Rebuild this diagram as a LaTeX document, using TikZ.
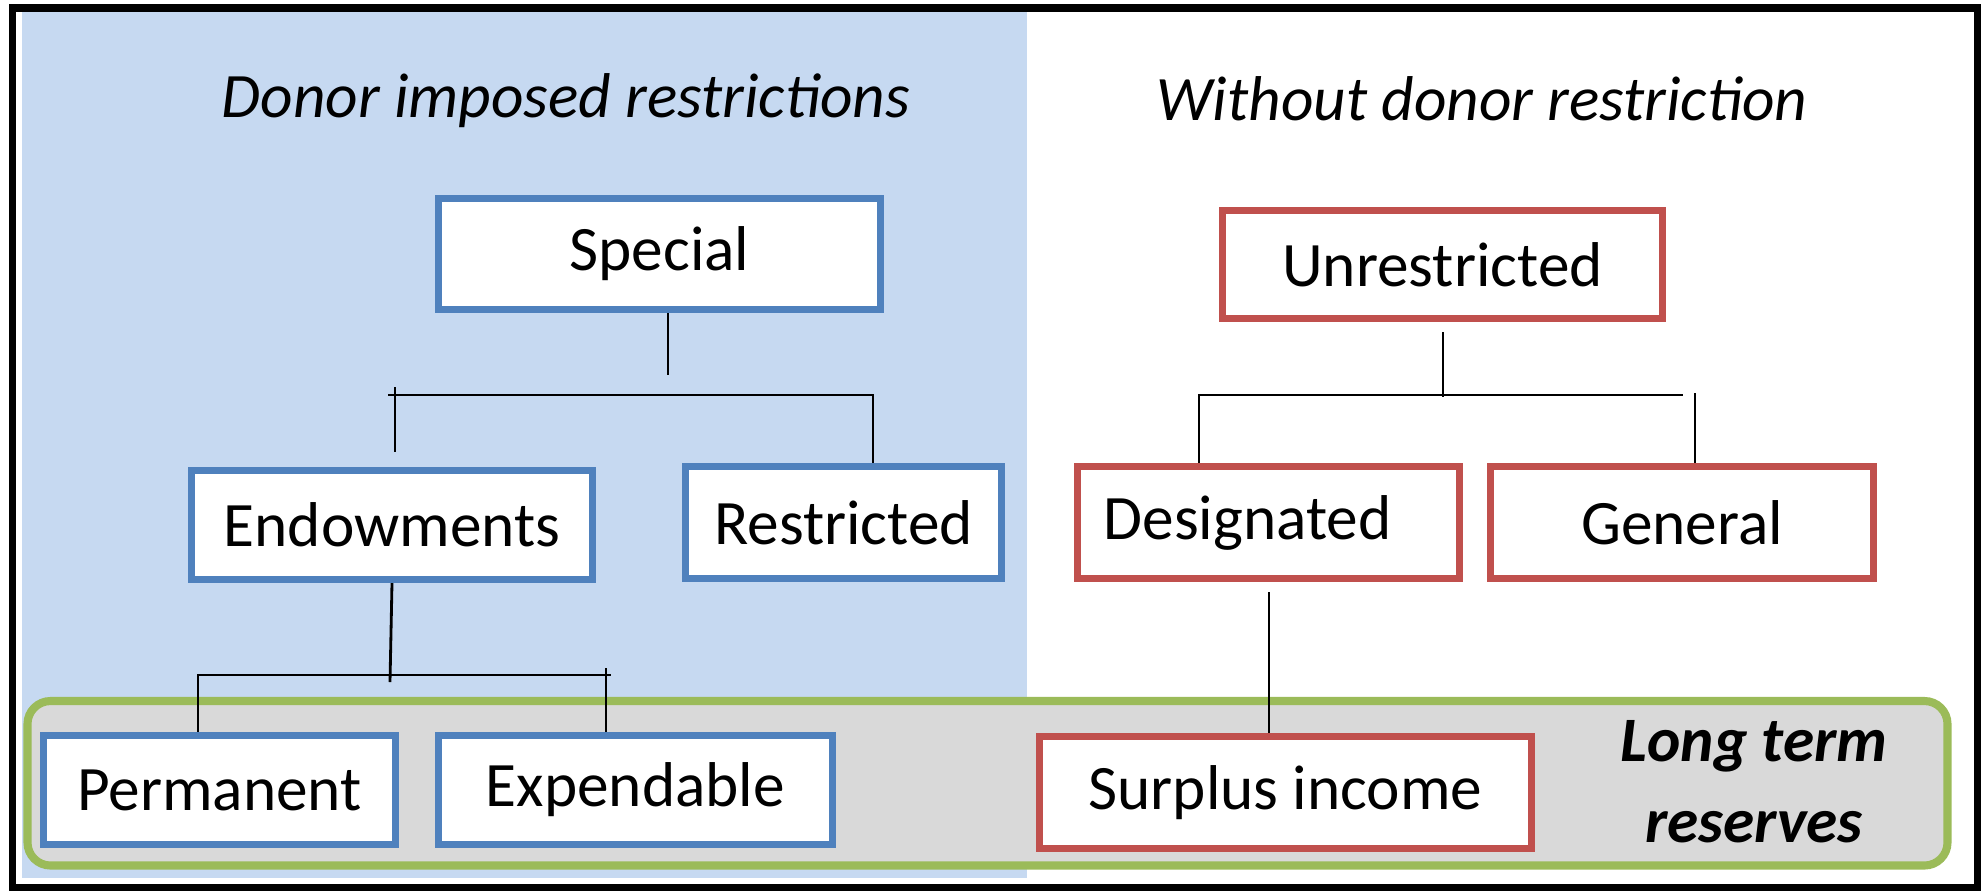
\documentclass[tikz,border=0pt]{standalone}
\usepackage{fontspec}
\setmainfont{Carlito}
\usetikzlibrary{calc}

\definecolor{donorbg}{HTML}{C6D9F1}
\definecolor{donorline}{HTML}{4F81BD}
\definecolor{freeline}{HTML}{C0504D}
\definecolor{reserveline}{HTML}{9BBB59}
\definecolor{reservebg}{HTML}{D9D9D9}

\tikzset{
  fund/.style={draw, line width=2pt, fill=white, inner sep=0pt,
    font=\fontsize{18}{22}\selectfont},
  donorfund/.style={fund, draw=donorline},
  freefund/.style={fund, draw=freeline},
  heading/.style={anchor=base, font=\itshape\fontsize{18}{22}\selectfont},
  link/.style={line width=0.8pt},
}

\begin{document}
\begin{tikzpicture}[x=0.01cm, y=-0.01cm]
   \useasboundingbox (0,0) rectangle (1982,890);
   % backgrounds and frame
   \fill[donorbg] (22,12) rectangle (1027,878);
   \draw[line width=2pt] (12.5,8) rectangle (1977.5,887);
   \draw[reserveline, fill=reservebg, line width=2.3pt, rounded corners=0.23cm]
   (27.5,701) rectangle (1947.5,865.5);

   \node[heading] (donor) at (566,117) {Donor imposed restrictions};
   \node[heading] (nodonor) at (1482,120) {Without donor restriction};

   % left tree
   \node[donorfund, minimum width=4.42cm, minimum height=1.11cm] (special) at (659.5,254) {Special};
   \node[donorfund, minimum width=4.01cm, minimum height=1.09cm] (endow) at (392,525) {Endowments};
   \node[donorfund, minimum width=3.16cm, minimum height=1.12cm] (restricted) at (843.5,522.5) {Restricted};
   \node[donorfund, minimum width=3.52cm, minimum height=1.09cm] (permanent) at (219.5,790) {Permanent};
   \node[donorfund, minimum width=3.94cm, minimum height=1.09cm] (expendable) at (635.5,790) {Expendable};

   % right tree
   \node[freefund, minimum width=4.40cm, minimum height=1.08cm] (unrestricted) at (1442.5,264.5) {Unrestricted};
   \node[freefund, minimum width=3.82cm, minimum height=1.12cm] (designated) at (1268.5,522.5) {Designated\hspace*{0.42cm}};
   \node[freefund, minimum width=3.83cm, minimum height=1.12cm] (general) at (1682,522.5) {General};
   \node[freefund, minimum width=4.92cm, minimum height=1.12cm] (surplus) at (1285.5,792.5) {Surplus income};

   \node[align=center, font=\bfseries\itshape\fontsize{18}{23}\selectfont] (reserves) at (1754,782)
   {Long term\\reserves};

   % connectors
   \coordinate (sp-stem) at (668,375);
   \coordinate (sp-l) at (388,395);
   \coordinate (sp-r) at (873,395);
   \coordinate (en-top) at (395,387);
   \coordinate (en-bot) at (395,452);
   \draw[link] (special.south -| sp-stem) -- (sp-stem);
   \draw[link] (sp-l) -- (sp-r) -- (sp-r |- restricted.north);
   \draw[link] (en-top) -- (en-bot);

   \coordinate (en-stem) at (390,682);
   \coordinate (en-l) at (198,675);
   \coordinate (en-r) at (611,675);
   \coordinate (ex-top) at (606,668);
   \draw[link] (endow.south) -- (en-stem);
   \draw[link] (permanent.north -| en-l) -- (en-l) -- (en-r);
   \draw[link] (ex-top) -- (ex-top |- expendable.north);

   \coordinate (un-top) at (1443,332);
   \coordinate (un-stem) at (1443,397);
   \coordinate (un-l) at (1199,395);
   \coordinate (un-r) at (1683,395);
   \coordinate (ge-top) at (1695,393);
   \draw[link] (un-top) -- (un-stem);
   \draw[link] (designated.north -| un-l) -- (un-l) -- (un-r);
   \draw[link] (ge-top) -- (ge-top |- general.north);

   \coordinate (de-stem) at (1269,592);
   \draw[link] (de-stem) -- (de-stem |- surplus.north);
\end{tikzpicture}
\end{document}
